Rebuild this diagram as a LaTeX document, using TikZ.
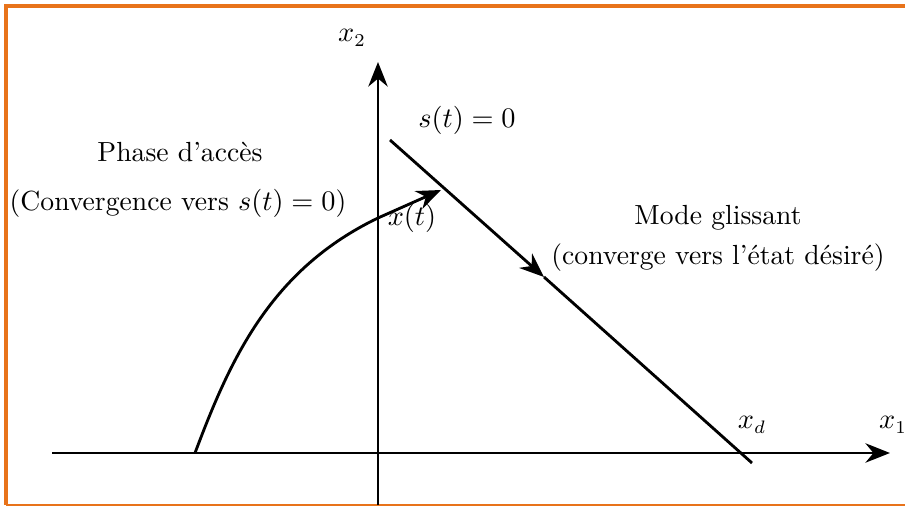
\documentclass[tikz,border=0pt]{standalone}
\usepackage{amsmath}
\usepackage{tikz}
\usetikzlibrary{arrows.meta}
\definecolor{frameorange}{HTML}{E8731A}

\begin{document}
\begin{tikzpicture}[x=0.0136cm,y=-0.0136cm,
    font=\fontsize{10.7pt}{13pt}\selectfont,
    axis/.style={line width=1.1pt,-{Stealth[length=9.5pt,width=7.5pt]}},
    traj/.style={line width=1.1pt}]
    \useasboundingbox (0,0) rectangle (905,508);
    \draw[frameorange,line width=1.2pt] (905,6) -- (6,6) -- (6,505);
    \draw[frameorange,line width=0.6pt] (6,505) -- (905,505);
    % axes
    \coordinate (x1start) at (52,453);
    \coordinate (x1end) at (890,453);
    \coordinate (x2start) at (378,505);
    \coordinate (x2end) at (378,62);
    \draw[axis] (x1start) -- (x1end);
    \draw[axis] (x2start) -- (x2end);
    \node (x2label) at (352,38) {$x_2$};
    \node (x1label) at (893,425) {$x_1$};
    % sliding surface
    \coordinate (stop) at (390,140);
    \coordinate (smid) at (544,277);
    \coordinate (sbot) at (752,463);
    \draw[axis] (stop) -- (smid);
    \draw[traj] (smid) -- (sbot);
    \node (slabel) at (467,120) {$s(t)=0$};
    \node (xdlabel) at (752,425) {$x_d$};
    % reaching trajectory
    \coordinate (xstart) at (195,453);
    \coordinate (xcross) at (378,218);
    \coordinate (xhit) at (441,190);
    \draw[traj] (xstart) .. controls (230,360) and (270,270) .. (xcross);
    \draw[axis] (xcross) -- (xhit);
    \node (xtlabel) at (412,218) {$x(t)$};
    % texts
    \node (phase) at (180,152) {Phase d'accès};
    \node (conv) at (178,203) {(Convergence vers $s(t)=0$)};
    \node (mode) at (718,218) {Mode glissant};
    \node (desire) at (718,258) {(converge vers l'état désiré)};
\end{tikzpicture}
\end{document}
